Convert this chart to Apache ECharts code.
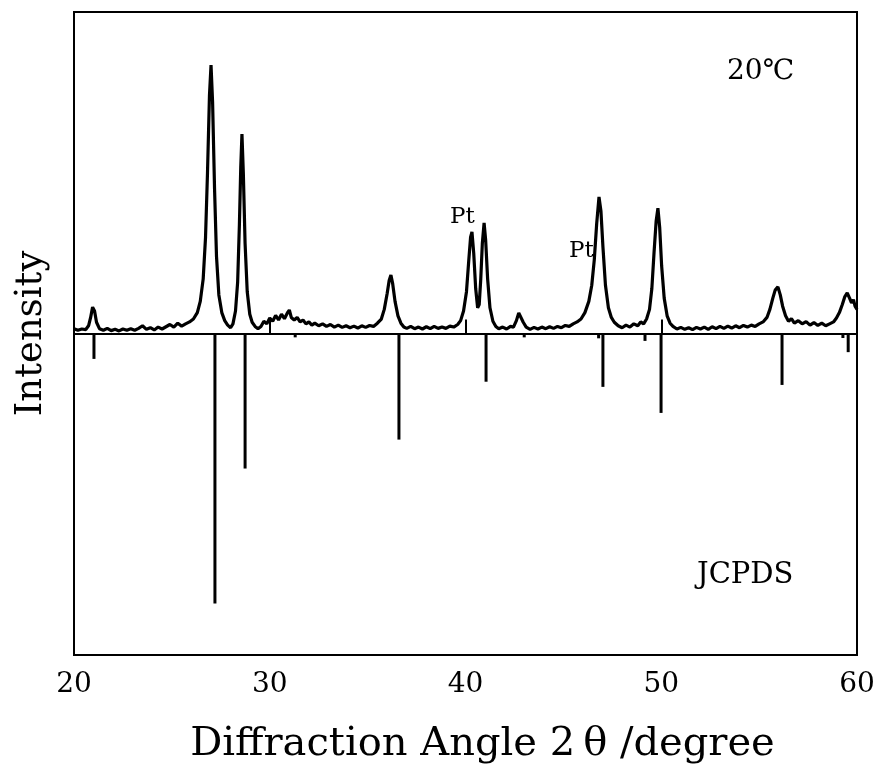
<!DOCTYPE html>
<html><head><meta charset="utf-8">
<script src="https://cdn.jsdelivr.net/npm/echarts@6/dist/echarts.min.js"></script>
<style>html,body{margin:0;padding:0;background:#fff}#c{width:879px;height:766px}</style>
</head><body><div id="c"></div>
<script>
// XRD pattern at 20 °C: [2θ, intensity]
const pattern = [
[20.0,1.5],[20.2,1.0],[20.4,1.4],[20.6,1.2],[20.75,2.5],[20.85,5],[20.95,8.2],[21.05,7],[21.15,3.5],[21.3,1.5],[21.5,1.0],[21.7,1.6],[21.9,0.9],[22.1,1.3],[22.3,0.8],[22.5,1.4],[22.7,1.0],[22.9,1.5],[23.1,1.0],[23.3,1.6],[23.5,2.4],[23.7,1.3],[23.9,1.8],[24.1,1.1],[24.3,2.0],[24.5,1.4],[24.7,2.1],[24.9,2.8],[25.1,2.0],[25.3,3.2],[25.5,2.3],[25.7,3.0],[25.9,3.6],[26.1,4.5],[26.3,6.5],[26.45,10],[26.6,17],[26.72,30],[26.82,50],[26.92,74],[27.0,83.5],[27.08,72],[27.18,45],[27.28,24],[27.4,12],[27.55,6.5],[27.7,4],[27.85,2.6],[28.0,1.8],[28.12,3],[28.25,7],[28.36,16],[28.45,34],[28.52,52],[28.58,62],[28.65,50],[28.74,28],[28.85,13],[28.98,6],[29.1,3.5],[29.25,2.2],[29.4,1.5],[29.55,2.2],[29.7,3.8],[29.85,3.0],[30.0,4.8],[30.15,3.8],[30.3,5.6],[30.45,4.2],[30.6,6.0],[30.75,4.6],[30.9,6.4],[31.0,7.3],[31.1,5.0],[31.25,4.2],[31.4,5.0],[31.55,3.6],[31.7,4.2],[31.85,3.0],[32.0,3.6],[32.15,2.6],[32.3,3.2],[32.5,2.4],[32.7,3.0],[32.9,2.2],[33.1,2.8],[33.3,2.0],[33.5,2.6],[33.7,1.9],[33.9,2.4],[34.1,1.8],[34.3,2.3],[34.5,1.7],[34.7,2.4],[34.9,1.9],[35.1,2.5],[35.3,2.2],[35.5,3.2],[35.7,4.5],[35.85,7.5],[36.0,12.5],[36.1,16.5],[36.19,18.2],[36.28,15.5],[36.4,10],[36.55,5.5],[36.7,3.2],[36.85,2.0],[37.0,1.6],[37.2,2.2],[37.4,1.5],[37.6,2.0],[37.8,1.4],[38.0,2.1],[38.2,1.5],[38.4,2.2],[38.6,1.6],[38.8,2.0],[39.0,1.6],[39.2,2.3],[39.4,2.0],[39.6,2.8],[39.75,4],[39.9,7],[40.05,13],[40.17,23],[40.26,30],[40.33,31.6],[40.42,25],[40.52,14],[40.62,8],[40.7,9],[40.78,17],[40.86,28],[40.95,34.4],[41.03,29],[41.13,17],[41.25,8],[41.4,3.8],[41.55,2.2],[41.7,1.5],[41.9,2.0],[42.1,1.4],[42.3,2.2],[42.45,2.0],[42.6,4],[42.72,6.4],[42.82,5.8],[42.95,3.5],[43.1,2.0],[43.3,1.3],[43.5,1.9],[43.7,1.4],[43.9,2.0],[44.1,1.5],[44.3,2.1],[44.5,1.6],[44.7,2.2],[44.9,1.8],[45.1,2.5],[45.3,2.2],[45.5,3.0],[45.7,3.6],[45.9,4.5],[46.1,6.5],[46.3,10],[46.45,15],[46.58,23],[46.7,34],[46.82,42.5],[46.92,38],[47.02,27],[47.15,15],[47.3,8],[47.45,5],[47.6,3.5],[47.8,2.4],[48.0,1.8],[48.2,2.6],[48.4,2.0],[48.6,3.0],[48.8,2.4],[48.95,3.6],[49.1,3.0],[49.25,4.5],[49.4,7.5],[49.52,14],[49.63,25],[49.74,35],[49.83,39],[49.92,33],[50.02,21],[50.15,11],[50.3,5.5],[50.45,3.2],[50.6,2.2],[50.8,1.4],[51.0,1.9],[51.2,1.3],[51.4,1.8],[51.6,1.2],[51.8,1.9],[52.0,1.4],[52.2,2.0],[52.4,1.3],[52.6,2.1],[52.8,1.5],[53.0,2.2],[53.2,1.6],[53.4,2.3],[53.6,1.7],[53.8,2.4],[54.0,1.8],[54.2,2.5],[54.4,2.0],[54.6,2.6],[54.8,2.2],[55.0,3.0],[55.2,3.6],[55.4,5.0],[55.55,7.5],[55.7,11],[55.82,13.5],[55.96,14.5],[56.08,12],[56.2,8.5],[56.35,5.5],[56.5,3.8],[56.65,4.6],[56.8,3.2],[57.0,4.0],[57.2,3.0],[57.4,3.7],[57.6,2.6],[57.8,3.4],[58.0,2.5],[58.2,3.2],[58.4,2.4],[58.6,3.0],[58.8,3.6],[58.95,4.8],[59.1,6.5],[59.25,9],[59.38,11.5],[59.5,12.6],[59.62,11],[59.72,9.5],[59.82,10.5],[59.9,8.5],[60.0,7.5]
];
// JCPDS reference lines (drawn downward)
const jcpdsAngle = [21.02, 27.2, 28.74, 31.3, 36.6, 41.05, 43.0, 46.8, 47.02, 49.17, 49.99, 56.17, 59.28, 59.55];
const jcpdsIntensity = [-7.9, -84, -42, -1.2, -33, -15, -1.2, -1.5, -16.6, -2.3, -24.7, -16, -1.4, -5.8];
const xTicks = [20, 30, 40, 50, 60];
const xTitle = 'Diffraction Angle 2\u2009\u03b8 /degree';
const yTitle = 'Intensity';

const serif = '"DejaVu Serif", "Liberation Serif", serif';
const chart = echarts.init(document.getElementById('c'));
chart.setOption({
  animation: false,
  backgroundColor: '#fff',
  grid: {left: 74, right: 22, top: 12, bottom: 111, show: true, borderColor: '#000', borderWidth: 2,
         backgroundColor: 'transparent', containLabel: false, outerBoundsMode: 'none'},
  xAxis: {
    type: 'value', min: xTicks[0], max: xTicks[xTicks.length - 1], interval: 10,
    axisLine: {show: false},
    axisTick: {show: true, inside: true, length: 14, lineStyle: {color: '#000', width: 2}},
    splitLine: {show: false},
    axisLabel: {color: '#000', fontFamily: serif, fontSize: 28, margin: 16},
    name: xTitle, nameLocation: 'middle', nameGap: 70,
    nameTextStyle: {color: '#000', fontFamily: serif, fontSize: 40, padding: [0, 0, 0, 34]}
  },
  yAxis: {
    type: 'value', min: -100, max: 100,
    axisLine: {show: false}, axisTick: {show: false}, axisLabel: {show: false}, splitLine: {show: false},
    name: yTitle, nameLocation: 'middle', nameGap: 24, nameRotate: 90,
    nameTextStyle: {color: '#000', fontFamily: serif, fontSize: 37}
  },
  series: [
    {
      type: 'bar', data: jcpdsAngle.map((a, i) => [a, jcpdsIntensity[i]]),
      barWidth: 3, itemStyle: {color: '#000'}, silent: true
    },
    {
      type: 'line', data: pattern, showSymbol: false, symbol: 'none',
      lineStyle: {color: '#000', width: 3.2}, silent: true, z: 5,
      markLine: {
        silent: true, symbol: ['none', 'none'], label: {show: false},
        lineStyle: {color: '#000', type: 'solid', width: 2},
        data: [{yAxis: 0}]
      }
    }
  ],
  graphic: [
    {type: 'text', left: 727, top: 58, style: {text: '20\u2103', fill: '#000', font: '28px ' + serif}},
    {type: 'text', left: 697, top: 561, style: {text: 'JCPDS', fill: '#000', font: '29px ' + serif}},
    {type: 'text', left: 450, top: 206, style: {text: 'Pt', fill: '#000', font: '23px ' + serif}},
    {type: 'text', left: 569, top: 240, style: {text: 'Pt', fill: '#000', font: '23px ' + serif}}
  ]
});
</script>
</body></html>
